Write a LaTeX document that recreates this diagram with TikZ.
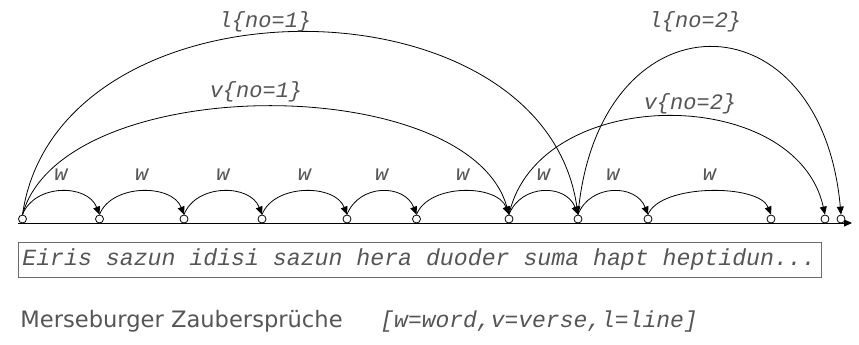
\documentclass[tikz,border=0pt]{standalone}
\usepackage{fontspec}
\setmonofont{Liberation Mono}
\setsansfont{DejaVu Sans}
\usetikzlibrary{arrows.meta}
\definecolor{labelgray}{HTML}{555555}
\definecolor{boxgray}{HTML}{6A6A6A}

\begin{document}
\begin{tikzpicture}
    [x=0.5pt, y=0.5pt,
     Bound/.style={circle, draw=black, fill=white, inner sep=0pt, minimum size=4pt},
     Arc/.style={draw=black, -{Triangle[length=4pt, width=3.5pt]}},
     Label/.style={text=labelgray, inner sep=0pt, font=\ttfamily\itshape\fontsize{11}{13}\selectfont}]
    \useasboundingbox (0,0) rectangle (859,344);
	% time line and token boundaries
	\coordinate (start) at (18,121);
	\coordinate (end) at (852,121);
	\draw[-{Triangle[length=4pt, width=3.5pt]}] (start) -- (end);
	\foreach \x [count=\i from 0] in {22.5,99.5,184,262,347,416.5,509,578,648,771,825,841}
		\node[Bound] (b\i) at (\x, 125) {};
	% words
	\foreach \a/\b in {0/1,1/2,2/3,3/4,4/5,5/6,6/7,7/8,8/9}
		\draw[Arc] (b\a.north) .. controls +(12,31) and +(-12,31) .. (b\b.north)
			node[Label, midway, above=5pt] {w};
	% verses and lines
	\draw[Arc] (b0.north) .. controls +(40,144) and +(-40,144) .. (b6.north);
	\draw[Arc] (b0.north) .. controls +(35,243) and +(-35,243) .. (b7.north);
	\draw[Arc] (b6.north) .. controls +(29,131) and +(-29,131) .. (b10.north);
	\draw[Arc] (b7.north) .. controls +(20,223) and +(-20,223) .. (b11.north);
	\node[Label] (l1) at (265,322) {l\{no=1\}};
	\node[Label] (v1) at (256,252) {v\{no=1\}};
	\node[Label] (l2) at (695,322) {l\{no=2\}};
	\node[Label] (v2) at (690,240) {v\{no=2\}};
	% text line
	\node[draw=boxgray, anchor=west, inner xsep=2pt, minimum height=16pt,
		text=labelgray, font=\ttfamily\itshape\fontsize{11.6}{13}\selectfont] (txt) at (18,84)
		{\makebox[397.5pt][l]{Eiris sazun idisi sazun hera duoder suma hapt heptidun...}};
	% caption
	\node[anchor=base west, inner sep=0pt, text=labelgray, font=\sffamily\fontsize{11.3}{13}\selectfont]
		(title) at (20,17) {Merseburger Zaubersprüche};
	\node[anchor=base west, inner sep=0pt, text=labelgray, font=\ttfamily\itshape\fontsize{11.5}{13}\selectfont]
		(key) at (380,17) {[w=word,v=verse,l=line]};
\end{tikzpicture}
\end{document}
